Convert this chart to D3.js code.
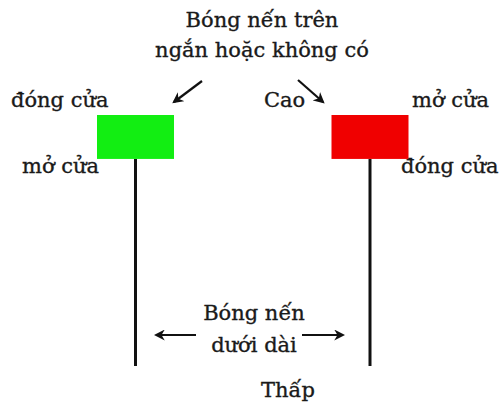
<!DOCTYPE html>
<html>
<head>
<meta charset="utf-8">
<script src="https://cdn.jsdelivr.net/npm/d3@7"></script>
<style>
  body { margin: 0; background: #fff; }
  text { font-family: "DejaVu Serif", "Liberation Serif", serif; fill: #1a1a1a; stroke: #1a1a1a; stroke-width: 0.35px; }
</style>
</head>
<body>
<svg></svg>
<script>
// candles: one bullish (green), one bearish (red)
const candleNames = ["tăng", "giảm"];
const openValues = [82.5, 100];
const closeValues = [100, 82.5];
const highValues = [100, 100];
const lowValues = [0, 0];
const candleColors = ["#12ee12", "#f00000"];

const titleLines = ["Bóng nến trên", "ngắn hoặc không có"];
const lowerShadowLines = ["Bóng nến", "dưới dài"];

const width = 503;
const height = 405;

const svg = d3.select("svg").attr("width", width).attr("height", height);

const xScale = d3.scalePoint().domain(candleNames).range([135.5, 370]);
const yScale = d3.scaleLinear().domain([0, 100]).range([366, 115]);
const boxWidth = 77;

const candles = candleNames.map((name, i) => ({
  name,
  open: openValues[i],
  close: closeValues[i],
  high: highValues[i],
  low: lowValues[i],
  color: candleColors[i]
}));

svg.append("defs")
  .append("marker")
  .attr("id", "arrow")
  .attr("viewBox", "0 0 10 10")
  .attr("refX", 8)
  .attr("refY", 5)
  .attr("markerWidth", 5)
  .attr("markerHeight", 5)
  .attr("orient", "auto")
  .append("path")
  .attr("d", "M0,0 L10,5 L0,10 L3,5 Z")
  .attr("fill", "#111");

// wicks
svg.selectAll(".wick")
  .data(candles)
  .enter()
  .append("line")
  .attr("class", "wick")
  .attr("x1", (d) => xScale(d.name))
  .attr("x2", (d) => xScale(d.name))
  .attr("y1", (d) => yScale(Math.min(d.open, d.close)))
  .attr("y2", (d) => yScale(d.low))
  .attr("stroke", "#111")
  .attr("stroke-width", 3);

// bodies
svg.selectAll(".body")
  .data(candles)
  .enter()
  .append("rect")
  .attr("class", "body")
  .attr("x", (d) => xScale(d.name) - boxWidth / 2)
  .attr("y", (d) => yScale(Math.max(d.open, d.close)))
  .attr("width", boxWidth)
  .attr("height", (d) => yScale(Math.min(d.open, d.close)) - yScale(Math.max(d.open, d.close)))
  .attr("fill", (d) => d.color);

const label = (txt, x, y, anchor) =>
  svg.append("text")
    .attr("x", x)
    .attr("y", y)
    .attr("text-anchor", anchor || "middle")
    .attr("font-size", 21)
    .text(txt);

const up = candles[0];
const down = candles[1];

// title
titleLines.forEach((t, i) => label(t, 262, 27 + i * 30));

// arrows from title
const arrow = (x1, y1, x2, y2) =>
  svg.append("line")
    .attr("x1", x1).attr("y1", y1)
    .attr("x2", x2).attr("y2", y2)
    .attr("stroke", "#111")
    .attr("stroke-width", 2.2)
    .attr("marker-end", "url(#arrow)");

arrow(202, 81, 174, 102);
arrow(298, 80, 323, 102);

// green candle labels
label("đóng cửa", 11, yScale(up.close) - 8, "start");
label("mở cửa", 22, yScale(up.open) + 14, "start");

// red candle labels
label("Cao", 264, yScale(down.high) - 8, "start");
label("mở cửa", 412, yScale(down.open) - 8, "start");
label("đóng cửa", 401, yScale(down.close) + 14, "start");

// lower shadow annotation
lowerShadowLines.forEach((t, i) => label(t, 254, 320 + i * 32));
arrow(196, 335, 156, 335);
arrow(302, 335, 343, 335);

label("Thấp", 288, yScale(up.low) + 31);
</script>
</body>
</html>
